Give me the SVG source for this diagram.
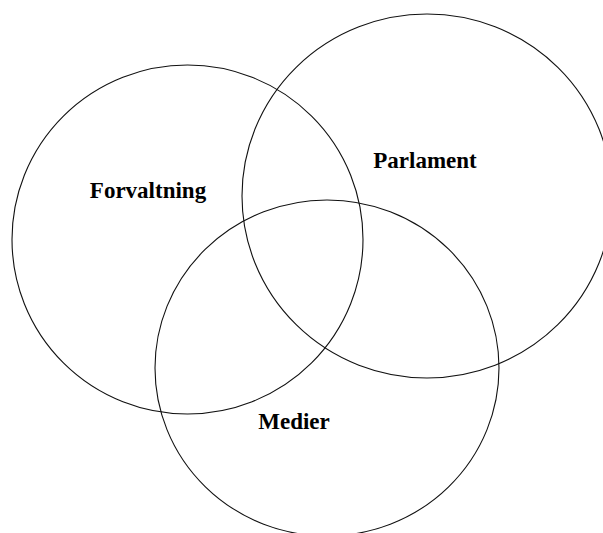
<svg xmlns="http://www.w3.org/2000/svg" width="603" height="533" viewBox="0 0 603 533">
<style>
.c{fill:none;stroke:#111;stroke-width:1.1}
.t{font-family:"Liberation Serif","Times New Roman",serif;font-weight:bold;font-size:23px;fill:#000;text-anchor:middle}
</style>
<rect width="603" height="533" fill="#fff"/>
<g id="forvaltning">
<ellipse class="c" cx="187.5" cy="239.5" rx="175.5" ry="174.5"/>
<text class="t" x="148" y="198">Forvaltning</text>
</g>
<g id="parlament">
<ellipse class="c" cx="427" cy="196" rx="185" ry="182"/>
<text class="t" x="425" y="168">Parlament</text>
</g>
<g id="medier">
<ellipse class="c" cx="327" cy="368" rx="172" ry="168"/>
<text class="t" x="294" y="429">Medier</text>
</g>
<g id="connectors"></g>
</svg>
